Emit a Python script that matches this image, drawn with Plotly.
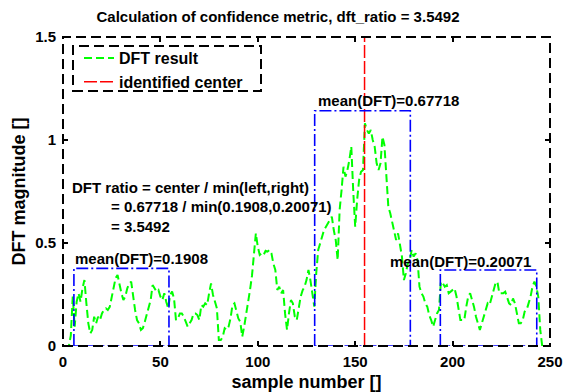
import plotly.graph_objects as go

# ---------------- data ----------------
samples = list(range(250))
dft = [0, 0, 0, 0, 0.05, 0.24, 0.094, 0.215, 0.256, 0.215,
       0.28, 0.32, 0.207, 0.11, 0.061, 0.078, 0.142, 0.11, 0.142, 0.126,
       0.158, 0.175, 0.183, 0.175, 0.19, 0.24, 0.28, 0.33, 0.345, 0.296,
       0.256, 0.223, 0.24, 0.28, 0.304, 0.312, 0.24, 0.175, 0.126, 0.11,
       0.078, 0.086, 0.118, 0.15, 0.19, 0.223, 0.296, 0.28, 0.264, 0.272,
       0.24, 0.223, 0.256, 0.215, 0.183, 0.248, 0.264, 0.231, 0.126, 0.134,
       0.158, 0.158, 0.142, 0.118, 0.094, 0.11, 0.126, 0.158, 0.158, 0.15,
       0.126, 0.199, 0.191, 0.207, 0.199, 0.256, 0.304, 0.248, 0.215, 0.183,
       0.029, 0.029, 0.045, 0.086, 0.078, 0.094, 0.134, 0.199, 0.207, 0.175,
       0.134, 0.118, 0.045, 0.094, 0.15, 0.199, 0.272, 0.34, 0.44, 0.547,
       0.482, 0.442, 0.45, 0.442, 0.462, 0.458, 0.466, 0.45, 0.40, 0.369,
       0.272, 0.288, 0.256, 0.272, 0.158, 0.078, 0.158, 0.223, 0.207, 0.142,
       0.126, 0.191, 0.24, 0.27, 0.288, 0.32, 0.369, 0.32, 0.256, 0.191,
       0.353, 0.466, 0.498, 0.531, 0.563, 0.579, 0.595, 0.612, 0.628, 0.563,
       0.515, 0.417, 0.66, 0.757, 0.87, 0.822, 0.854, 0.903, 0.968, 0.75,
       0.579, 0.709, 0.806, 0.846, 0.854, 1.081, 1.049, 1.032, 1.049, 1.0,
       0.968, 0.887, 0.854, 0.887, 1.016, 0.976, 0.806, 0.676, 0.644, 0.595,
       0.547, 0.515, 0.547, 0.482, 0.434, 0.32, 0.353, 0.401, 0.417, 0.466,
       0.434, 0.45, 0.417, 0.288, 0.256, 0.24, 0.207, 0.191, 0.15, 0.126,
       0.094, 0.126, 0.158, 0.175, 0.312, 0.304, 0.288, 0.296, 0.256, 0.264,
       0.27, 0.28, 0.24, 0.19, 0.126, 0.126, 0.126, 0.19, 0.239, 0.256,
       0.223, 0.19, 0.142, 0.11, 0.078, 0.11, 0.142, 0.175, 0.207, 0.199,
       0.231, 0.27, 0.304, 0.312, 0.256, 0.256, 0.256, 0.264, 0.231, 0.207,
       0.199, 0.231, 0.207, 0.158, 0.11, 0.11, 0.126, 0.167, 0.175, 0.207,
       0.239, 0.288, 0.312, 0.288, 0.239, 0.078, 0.0, 0, 0, 0]

center_sample = 154.8
box_left = [5.6, 129.2, 193.7]
box_right = [54.4, 178.3, 243.2]
box_height = [0.377, 1.142, 0.369]
box_means = ["0.1908", "0.67718", "0.20071"]
dft_ratio = "3.5492"

x_ticks = [0, 50, 100, 150, 200, 250]
y_ticks = [0, 0.5, 1, 1.5]
y_range = [0, 1.5]

# ---------------- figure ----------------
FONT = "Liberation Sans, Arial, sans-serif"
fig = go.Figure()

fig.add_trace(go.Scatter(
    x=samples, y=dft, mode="lines", name="DFT result",
    line=dict(color="#00ff00", width=2, dash="8px,4px")))

fig.add_trace(go.Scatter(
    x=[center_sample, center_sample], y=y_range, mode="lines",
    name="identified center", hoverinfo="skip",
    line=dict(color="#ff0000", width=1.5, dash="13px,3px")))

for x0, x1, h in zip(box_left, box_right, box_height):
    fig.add_trace(go.Scatter(
        x=[x0, x0, x1, x1, x0], y=[0, h, h, 0, 0], mode="lines",
        line=dict(color="#0000ff", width=1.6, dash="12px,3px,2px,3px"),
        showlegend=False, hoverinfo="skip"))

ann = []
ann.append(dict(x=box_left[0] - 0.5, y=box_height[0] + 0.05, text="mean(DFT)=" + box_means[0]))
ann.append(dict(x=box_left[1] + 0.5, y=box_height[1] + 0.05, text="mean(DFT)=" + box_means[1]))
ann.append(dict(x=167, y=box_height[2] + 0.04, text="mean(DFT)=" + box_means[2]))
ann.append(dict(x=3.5, y=0.77, text="DFT ratio = center / min(left,right)"))
ann.append(dict(x=23.5, y=0.675, text="= " + box_means[1] + " / min(" + box_means[0] + "," + box_means[2] + ")"))
ann.append(dict(x=23.5, y=0.578, text="= " + dft_ratio))
for a in ann:
    fig.add_annotation(xref="x", yref="y", xanchor="left", yanchor="middle",
                       showarrow=False, font=dict(size=15, color="black", family=FONT, weight="bold"), **a)

# dashed frame around the axes
fig.add_shape(type="rect", xref="paper", yref="paper", x0=0, x1=1, y0=0, y1=1,
              line=dict(color="black", width=2, dash="10px,5px"), fillcolor="rgba(0,0,0,0)",
              layer="above")

# dashed legend box
fig.add_shape(type="rect", xref="paper", yref="paper",
              x0=(73 - 63) / 487, x1=(261 - 63) / 487,
              y0=(346 - 91) / 309, y1=(346 - 46) / 309,
              line=dict(color="black", width=2, dash="10px,5px"), fillcolor="rgba(0,0,0,0)",
              layer="above")

fig.update_layout(
    width=572, height=392,
    margin=dict(l=63, r=22, t=37, b=46),
    paper_bgcolor="white", plot_bgcolor="white",
    font=dict(family=FONT, size=15, color="black", weight="bold"),
    title=dict(text="Calculation of confidence metric, dft_ratio = " + dft_ratio,
               x=278 / 572, xref="container", xanchor="center",
               y=1 - 17 / 392, yref="container", yanchor="middle",
               font=dict(size=15, family=FONT, weight="bold")),
    showlegend=True,
    legend=dict(x=(79 - 63) / 487, y=(346 - 41) / 309, xanchor="left", yanchor="top",
                bgcolor="rgba(0,0,0,0)", borderwidth=0, tracegroupgap=0,
                font=dict(size=16, family=FONT, weight="bold")),
    xaxis=dict(range=[0, 250], tickvals=x_ticks, ticks="inside", ticklen=5, tickwidth=1.5,
               tickcolor="black", mirror="ticks", showline=False, showgrid=False, zeroline=False,
               ticklabelstandoff=5, automargin=False,
               title=dict(text="sample number []", standoff=10)),
    yaxis=dict(range=y_range, tickvals=y_ticks, ticks="inside", ticklen=5, tickwidth=1.5,
               tickcolor="black", mirror="ticks", showline=False, showgrid=False, zeroline=False,
               ticklabelstandoff=6, automargin=False,
               title=dict(text="DFT magnitude []", standoff=4)),
)

fig.write_html("out.html")
